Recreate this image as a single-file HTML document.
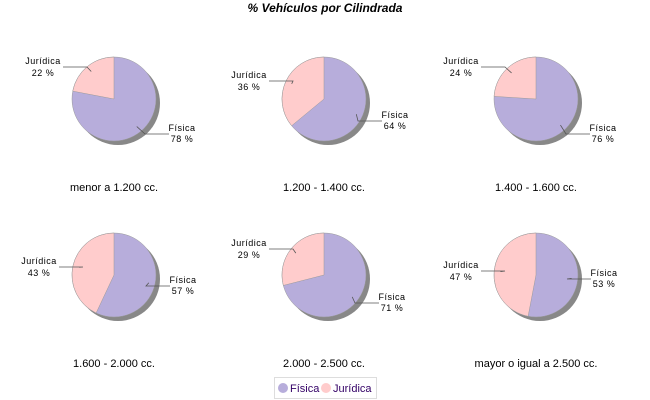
<!DOCTYPE html>
<html><head><meta charset="utf-8"><style>
body{margin:0;background:#fff;width:650px;height:400px;overflow:hidden}
svg{display:block;font-family:"Liberation Sans",sans-serif}
</style></head><body>
<svg id="s" width="650" height="400" xmlns="http://www.w3.org/2000/svg">
<text x="325" y="12" text-anchor="middle" font-size="12" font-weight="bold" font-style="italic">% Vehículos por Cilindrada</text>
<rect x="274.5" y="377.5" width="102" height="21" fill="#fff" stroke="#ddd"/>
<circle cx="283" cy="388" r="5" fill="#b7addb"/>
<text x="290" y="392" font-size="11" fill="#330066">Física</text>
<circle cx="326" cy="388" r="5" fill="#ffcccc"/>
<text x="333" y="392" font-size="11" fill="#330066">Jurídica</text>
</svg>
<script>
var s=document.getElementById('s'),NS='http://www.w3.org/2000/svg';
function el(t,a,txt){var e=document.createElementNS(NS,t);for(var k in a)e.setAttribute(k,a[k]);if(txt)e.textContent=txt;s.appendChild(e);return e;}
var P=[
[114,99,22,'menor a 1.200 cc.',-52,-38,56,29],
[324,99,36,'1.200 - 1.400 cc.',-56,-24,59,16],
[536,99,24,'1.400 - 1.600 cc.',-56,-38,55,29],
[114,275,43,'1.600 - 2.000 cc.',-56,-14,57,5],
[324,275,29,'2.000 - 2.500 cc.',-56,-32,56,22],
[536,275,47,'mayor o igual a 2.500 cc.',-56,-10,56,-2]];
var r=42;
P.forEach(function(p){
var cx=p[0],cy=p[1],j=p[2];
el('circle',{cx:cx+4,cy:cy+4,r:r,fill:'#888'});
el('circle',{cx:cx,cy:cy,r:r,fill:'#b7addb',stroke:'#999','stroke-width':0.5});
var a=j/100*2*Math.PI;
var x=cx-r*Math.sin(a),y=cy-r*Math.cos(a);
el('path',{d:'M'+cx+','+cy+' L'+cx+','+(cy-r)+' A'+r+','+r+' 0 '+(j>50?1:0)+',0 '+x+','+y+' Z',fill:'#ffcccc',stroke:'#999','stroke-width':0.5});
// labels
var mj=a/2, mf=a+(2*Math.PI-a)/2;
var jx=cx-0.85*r*Math.sin(mj),jy=cy-0.85*r*Math.cos(mj);
var fx=cx-0.85*r*Math.sin(mf),fy=cy-0.85*r*Math.cos(mf);
var lx=cx+p[4],ly=cy+p[5],rx=cx+p[6],ry=cy+p[7];
el('polyline',{points:(lx+1)+','+(ly+6)+' '+(lx+25)+','+(ly+6)+' '+jx+','+jy,fill:'none',stroke:'#555','stroke-width':0.8});
el('polyline',{points:(rx-1)+','+(ry+6)+' '+(rx-25)+','+(ry+6)+' '+fx+','+fy,fill:'none',stroke:'#555','stroke-width':0.8});
el('text',{x:lx-19,y:ly+3,'text-anchor':'middle','font-size':9,'letter-spacing':'0.5'},'Jurídica');
el('text',{x:lx-19,y:ly+15,'text-anchor':'middle','font-size':9,'letter-spacing':'0.5'},j+' %');
el('text',{x:rx+12,y:ry+3,'text-anchor':'middle','font-size':9,'letter-spacing':'0.5'},'Física');
el('text',{x:rx+12,y:ry+14,'text-anchor':'middle','font-size':9,'letter-spacing':'0.5'},(100-j)+' %');
el('text',{x:cx,y:cy+92,'text-anchor':'middle','font-size':11},p[3]);
});
</script>
</body></html>
